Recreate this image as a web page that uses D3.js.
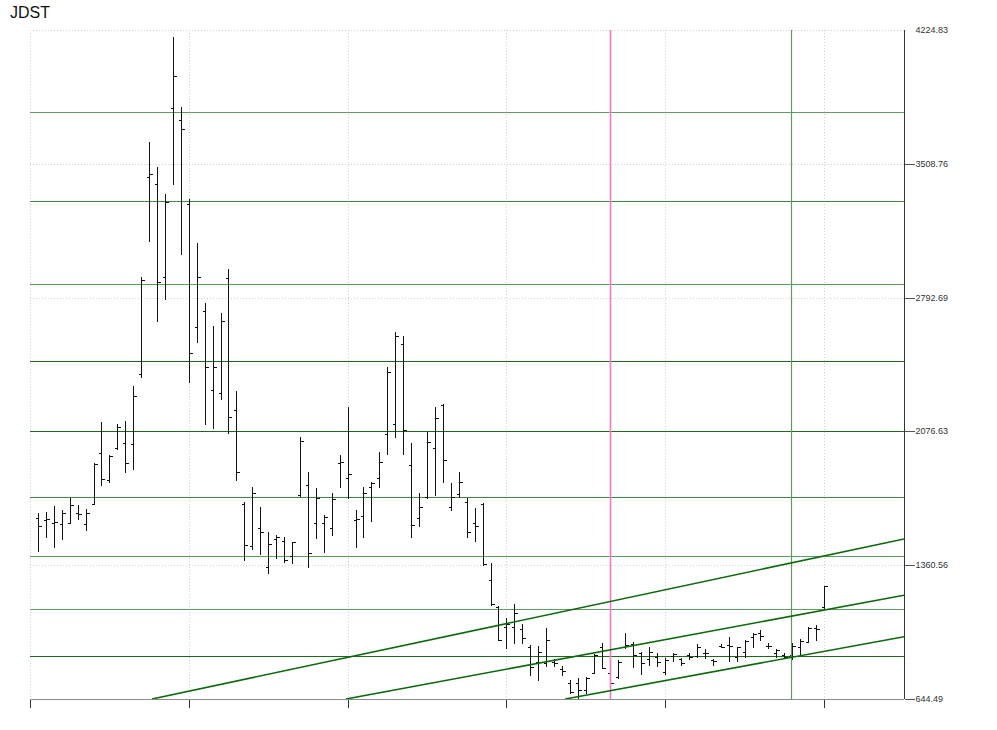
<!DOCTYPE html>
<html><head><meta charset="utf-8">
<script src="https://cdn.jsdelivr.net/npm/d3@7/dist/d3.min.js"></script>
<style>body{margin:0;background:#fff}svg{display:block}</style>
</head><body><svg id="c" width="997" height="730"></svg>
<script>
const title = "JDST";
const barIndex = d3.range(1, 101);
const open = [1613,1602,1586,1581,1586,1640,1581,1688,1961,1816,
1988,2015,2009,2384,3438,3401,2903,3807,3743,3294,
2635,2721,2298,2282,2898,2191,1688,1463,1560,1351,
1501,1490,1410,1736,1790,1586,1586,1560,1907,1827,
1602,1624,1779,1827,2063,2116,2544,1897,1613,1726,
1988,2218,1672,1742,1699,1586,1688,1281,1137,1030,
1030,1019,923,842,837,840,805,730,730,693,
784,923,784,762,923,939,891,859,869,789,
875,859,880,875,891,853,928,933,869,896,
976,998,928,891,880,880,923,950,1024,1137];
const high = [1640,1645,1677,1656,1720,1683,1661,1907,2127,1950,
2116,2132,2320,2903,3625,3492,3347,4187,3813,3320,
3085,2764,2641,2710,2946,2293,1699,1779,1672,1538,
1522,1511,1485,2047,1859,1774,1629,1747,1950,2207,
1656,1779,1806,1966,2421,2609,2587,2015,1747,2073,
2207,2223,1800,1859,1720,1667,1693,1372,1142,1078,
1153,1046,933,928,1024,859,821,746,757,762,
885,944,800,853,998,950,896,923,891,864,
891,864,891,939,912,859,939,976,923,960,
998,1014,944,912,891,944,966,1030,1040,1249];
const low = [1437,1511,1458,1501,1586,1608,1549,1688,1790,1806,
1982,1859,1875,2368,3096,2667,2785,3401,3026,2341,
2555,2116,2095,2250,2068,1816,1388,1447,1420,1319,
1399,1378,1372,1731,1351,1506,1431,1522,1779,1720,
1458,1511,1597,1779,1956,2047,1956,1511,1570,1720,
1736,1806,1656,1726,1511,1490,1362,1148,960,917,
944,944,773,746,821,821,773,677,644.49,677,
784,810,725,757,917,816,778,826,821,778,
848,826,859,869,864,826,923,848,848,869,
923,960,917,869,864,859,885,950,960,1131];
const close = [1570,1608,1592,1640,1683,1635,1640,1902,1822,1945,
2100,1907,2266,2887,3454,2876,3304,3979,3695,2496,
2903,2421,2421,2667,2154,1859,1469,1747,1538,1474,
1511,1388,1485,2025,1426,1720,1618,1715,1913,1849,
1608,1747,1800,1913,2394,2587,2084,1576,1672,2020,
2148,1924,1726,1806,1538,1570,1367,1153,960,1046,
1105,971,816,896,960,835,794,682,693,757,
880,810,730,842,933,880,837,896,842,853,
885,837,869,923,888,850,923,928,923,955,
992,982,928,907,869,928,955,1024,1019,1249];

const yTickValues = [644.49, 1360.56, 2076.63, 2792.69, 3508.76, 4224.83];
const yTickLabels = ["644.49", "1360.56", "2076.63", "2792.69", "3508.76", "4224.83"];
const xTickValues = [0, 20, 40, 60, 80, 100];
const levels = [3787, 3311, 2867, 2454, 2079, 1724, 1412, 1124, 877];
const levelTone = ["light", "mid", "light", "dark", "dark", "mid", "light", "light", "dark"];
const pinkMarker = 73;
const greenMarker = 95.8;
const channelStart = [[15.37, 644.49], [39.8, 644.49], [67.4, 644.49]];
const channelEnd = [[110.08, 1501], [110.08, 1200], [110.08, 978]];

const W = 997, H = 730;
const L = 30, R = 904, T = 30, B = 699;
const toneColor = {light: "#5e9e5e", mid: "#3f873f", dark: "#1d6a1d"};

const svg = d3.select("#c");
svg.append("rect").attr("width", W).attr("height", H).attr("fill", "#fff");

const x = d3.scaleLinear().domain([0, 110.08]).range([L, R]);
const y = d3.scaleLinear().domain([644.49, 4224.83]).range([B, T]);
const px = v => Math.round(v) + 0.5;

svg.append("defs").append("clipPath").attr("id", "plot")
  .append("rect").attr("x", L).attr("y", T).attr("width", R - L).attr("height", B - T);

// dotted grid
const grid = svg.append("g").attr("stroke", "#d0d0d0").attr("stroke-dasharray", "1,2").attr("shape-rendering", "crispEdges");
grid.selectAll("line.h").data(yTickValues.slice(1)).join("line")
  .attr("x1", L).attr("x2", R).attr("y1", d => px(y(d))).attr("y2", d => px(y(d)));
grid.selectAll("line.v").data(xTickValues).join("line")
  .attr("y1", T).attr("y2", B).attr("x1", d => px(x(d))).attr("x2", d => px(x(d)));

// horizontal levels
svg.append("g").attr("shape-rendering", "crispEdges").selectAll("line").data(levels).join("line")
  .attr("x1", L).attr("x2", R)
  .attr("y1", d => px(y(d))).attr("y2", d => px(y(d)))
  .attr("stroke", (d, i) => toneColor[levelTone[i]]).attr("stroke-width", 1);

// bars
const bars = svg.append("g").attr("stroke", "#111").attr("stroke-width", 1).attr("shape-rendering", "crispEdges");
barIndex.forEach((idx, i) => {
  const cx = px(x(idx));
  bars.append("line").attr("x1", cx).attr("x2", cx).attr("y1", Math.round(y(high[i]))).attr("y2", Math.round(y(low[i])) + 1);
  bars.append("line").attr("x1", cx - 3).attr("x2", cx).attr("y1", px(y(open[i]))).attr("y2", px(y(open[i])));
  bars.append("line").attr("x1", cx).attr("x2", cx + 3).attr("y1", px(y(close[i]))).attr("y2", px(y(close[i])));
});

// vertical markers
svg.append("line").attr("x1", px(x(pinkMarker))).attr("x2", px(x(pinkMarker))).attr("y1", T).attr("y2", B)
  .attr("stroke", "#f07cc8").attr("stroke-width", 1.6);
svg.append("line").attr("x1", px(x(greenMarker))).attr("x2", px(x(greenMarker))).attr("y1", T).attr("y2", B)
  .attr("stroke", "#5f995f").attr("stroke-width", 1.2);

// channel lines
svg.append("g").attr("clip-path", "url(#plot)").selectAll("line").data(channelStart).join("line")
  .attr("x1", d => x(d[0])).attr("y1", d => y(d[1]))
  .attr("x2", (d, i) => x(channelEnd[i][0])).attr("y2", (d, i) => y(channelEnd[i][1]))
  .attr("stroke", "#0c6a0c").attr("stroke-width", 1.6);

// bottom axis
const xAxis = d3.axisBottom(x).tickValues(xTickValues).tickSize(8).tickFormat("");
const gx = svg.append("g").attr("transform", `translate(0,${B + 0.5})`).call(xAxis);
gx.select(".domain").attr("stroke", "#8c8c8c").attr("d", `M${L},0H${R}`);
gx.selectAll(".tick line").attr("stroke", "#333").attr("shape-rendering", "crispEdges");
gx.selectAll(".tick").attr("transform", d => `translate(${px(x(d))},0)`);

// right axis
const yAxis = d3.axisRight(y).tickValues(yTickValues).tickSize(10).tickPadding(1)
  .tickFormat((d, i) => yTickLabels[i]);
const gy = svg.append("g").attr("transform", `translate(${R + 0.5},0)`).call(yAxis);
gy.select(".domain").attr("stroke", "#333").attr("d", `M0,${T}V${B}`);
gy.selectAll(".tick").attr("transform", d => `translate(0,${px(y(d))})`);
gy.selectAll(".tick line").attr("stroke", "#555").attr("shape-rendering", "crispEdges")
  .attr("x2", d => d === 4224.83 ? 0 : 10);
gy.selectAll(".tick text").attr("fill", "#333").attr("font-family", "Liberation Sans, Arial, sans-serif")
  .attr("font-size", 9).attr("x", 11);

// title
svg.append("text").attr("x", 10).attr("y", 18).text(title)
  .attr("font-family", "Liberation Sans, Arial, sans-serif").attr("font-size", 16).attr("fill", "#111");
</script></body></html>
